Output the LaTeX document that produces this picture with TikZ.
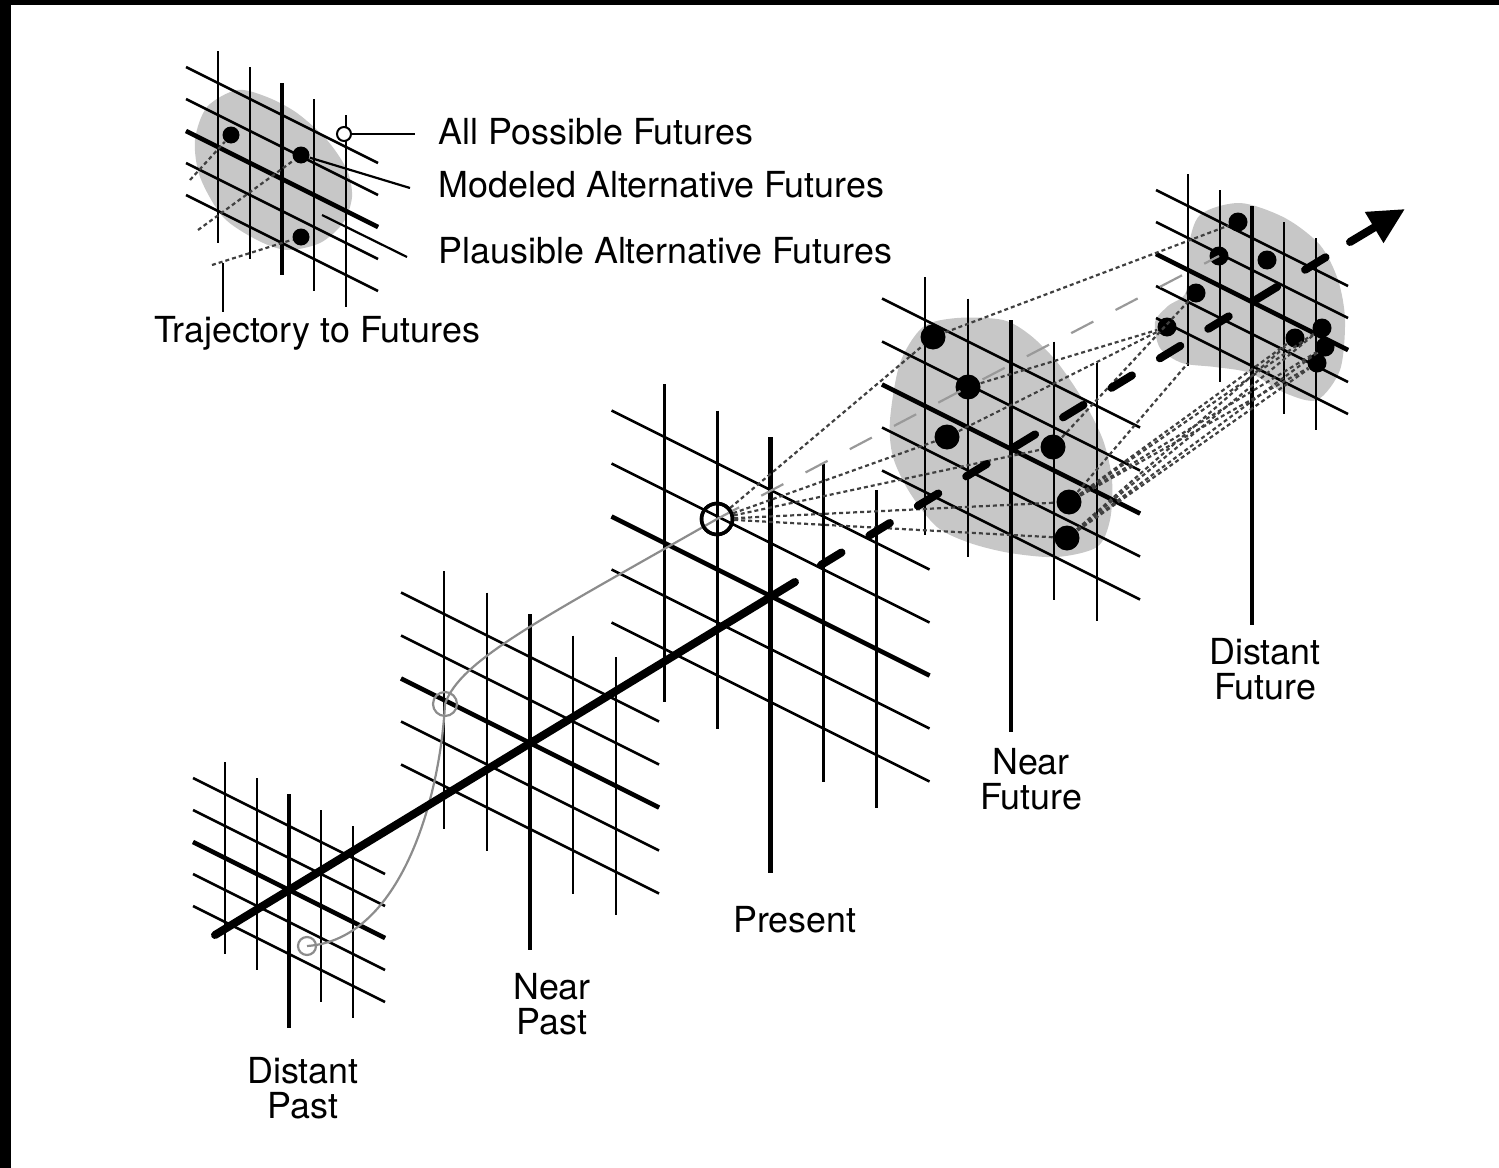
\documentclass[tikz,border=0pt]{standalone}
\usepackage{fontspec}
\setmainfont{TeX Gyre Heros}
\usetikzlibrary{arrows.meta}
\tikzset{
  gridline/.style={line width=0.25mm},
  gridaxis/.style={line width=0.45mm},
  blob/.style={fill=black!22},
  fut/.style={circle, fill=black, inner sep=0pt, minimum size=2.5mm},
  farfut/.style={fut, minimum size=1.9mm},
  keyfut/.style={fut, minimum size=1.7mm},
  nowpt/.style={circle, draw, line width=0.35mm, inner sep=0pt, minimum size=3.1mm},
  pastpt/.style={circle, draw=black!45, line width=0.22mm, inner sep=0pt, minimum size=2.4mm},
  traj/.style={draw=black!45, line width=0.22mm},
  altpath/.style={black!75, line width=0.22mm, dash pattern=on 0.4mm off 0.3mm},
  extrap/.style={black!40, line width=0.22mm, dash pattern=on 2.5mm off 2.5mm},
  timeline/.style={line width=0.8mm, line cap=round},
  lbl/.style={font=\fontsize{10.2}{10}\selectfont, align=center},
  keytext/.style={font=\fontsize{10.2}{10}\selectfont, anchor=base west, inner sep=0pt},
  leader/.style={line width=0.22mm},
}
% centre x, centre y, spacing, drop of the centre vertical
\newcommand{\timegrid}[4]{
  \foreach \i in {-2,...,2}{
    \draw[gridline] ({#1+(\i)*#3},{#2+0.5*(\i)*#3-3*#3}) -- ({#1+(\i)*#3},{#2+0.5*(\i)*#3+3*#3});
    \draw[gridline] ({#1-3*#3},{#2+(\i)*#3-1.5*#3}) -- ({#1+3*#3},{#2+(\i)*#3+1.5*#3});
  }
  \draw[gridaxis] (#1,{#2-3*#3}) -- (#1,{#2+#4});
  \draw[gridaxis] ({#1-3*#3},{#2-1.5*#3}) -- ({#1+3*#3},{#2+1.5*#3});
}

\begin{document}
\begin{tikzpicture}[x=0.1mm, y=-0.1mm]
    \useasboundingbox (0,0) rectangle (1499,1168);
    \fill (0,0) rectangle (1499,5);
    \fill (0,0) rectangle (11,1168);
    % shaded clusters
    \fill[blob] plot[smooth cycle] coordinates {(237,90) (267,97) (297,113) (327,140) (347,170) (352,197) (343,223) (320,243) (287,250) (257,240) (223,217) (200,177) (195,140) (207,107)};
    \fill[blob] plot[smooth cycle] coordinates {(890,420) (900,363) (923,327) (957,318) (1003,320) (1030,335) (1057,362) (1083,400) (1103,440) (1112,480) (1110,520) (1097,547) (1057,557) (1010,553) (970,543) (937,527) (910,493) (893,457)};
    \fill[blob] plot[smooth cycle] coordinates {(1240,203) (1285,218) (1320,245) (1338,280) (1345,320) (1340,370) (1317,400) (1285,393) (1250,373) (1215,367) (1182,363) (1160,348) (1155,322) (1168,306) (1186,292) (1188,250) (1200,215)};
    % grids
    \timegrid{282}{179}{32}{96}
    \timegrid{289}{890}{32}{138}
    \timegrid{530}{743}{43}{207}
    \timegrid{770.5}{596}{53}{277}
    \timegrid{1011}{449}{43}{283}
    \timegrid{1252}{302}{32}{323}
    % points in time
    \node[nowpt] (now) at (717,519) {};
    \node[pastpt] (npst) at (445,704) {};
    \node[pastpt, minimum size=1.8mm] (dpst) at (307,946) {};
    \node[fut] (nf1) at (933,337) {};
    \node[fut] (nf2) at (968,387) {};
    \node[fut] (nf3) at (947,437) {};
    \node[fut] (nf4) at (1053,447) {};
    \node[fut] (nf5) at (1069,502) {};
    \node[fut] (nf6) at (1067,538) {};
    \node[farfut] (df1) at (1238,222) {};
    \node[farfut] (df2) at (1219,256) {};
    \node[farfut] (df3) at (1267,260) {};
    \node[farfut] (df4) at (1196,293) {};
    \node[farfut] (df5) at (1167,327) {};
    \node[farfut] (df6) at (1295,338) {};
    \node[farfut] (df7) at (1322,328) {};
    \node[farfut] (df8) at (1325,347) {};
    \node[farfut] (df9) at (1317,363) {};
    \coordinate (dfx) at (1188,363);
    \draw[traj] (dpst.center) .. controls (400,940) and (440,800) .. (npst.center) .. controls (460,660) and (540,620) .. (now.center);
    \draw[extrap] (now.center) -- (nf2.center) -- (df2.center);
    \foreach \d in {nf1,nf3,nf4,nf5,nf6} \draw[altpath] (now) -- (\d);
    \draw[altpath] (nf1) -- (df1);
    \draw[altpath] (nf2) -- (df5);
    \draw[altpath] (nf3) -- (df5);
    \draw[altpath] (nf4) -- (df4);
    \draw[altpath] (nf5) -- (dfx);
    \foreach \a in {nf5,nf6} \foreach \b in {df6,df7,df8,df9} \draw[altpath] (\a) -- (\b);
    % time line
    \coordinate (axA) at (215,935);
    \coordinate (axB) at (795,582);
    \coordinate (axC) at (821,565);
    \coordinate (axD) at (1326,257);
    \coordinate (axE) at (1350,242);
    \coordinate (axF) at (1405,209);
    \draw[timeline] (axA) -- (axB);
    \draw[timeline, dash pattern=on 2.4mm off 3.27mm] (axC) -- (axD);
    \draw[timeline, -{Triangle[length=3.6mm, width=3.4mm]}] (axE) -- (axF);
    \foreach \d in {nf1,nf2,nf3,nf4,nf5,nf6,df1,df2,df3,df4,df5,df6,df7,df8,df9} \node[fut, minimum size=0pt] at (\d) {};
    \node[nowpt] at (now) {};
    % legend
    \node[keyfut] (kd1) at (231,135) {};
    \node[keyfut] (kd2) at (301,155) {};
    \node[keyfut] (kd3) at (301,237) {};
    \node[circle, draw, fill=white, line width=0.2mm, inner sep=0pt, minimum size=1.4mm] (kall) at (344,134) {};
    \coordinate (kt1) at (190,180);
    \coordinate (kt2) at (198,230);
    \coordinate (kt3) at (212,265);
    \draw[altpath] (kt1) -- (kd1);
    \draw[altpath] (kt2) -- (kd2);
    \draw[altpath] (kt3) -- (kd3);
    \node[keytext] (kall-l) at (438,144) {All Possible Futures};
    \node[keytext] (kmod-l) at (438,197) {Modeled Alternative Futures};
    \node[keytext] (kpla-l) at (438,263) {Plausible Alternative Futures};
    \node[lbl, anchor=base, inner sep=0pt] (ktrj-l) at (317,342) {Trajectory to Futures};
    \coordinate (kall-e) at (415,134);
    \coordinate (kmod-e) at (410,188);
    \coordinate (kpla-s) at (322,215);
    \coordinate (kpla-e) at (407,257);
    \coordinate (ktrj-s) at (223,263);
    \coordinate (ktrj-e) at (223,312);
    \draw[leader] (kall) -- (kall-e);
    \draw[leader] (kd2) -- (kmod-e);
    \draw[leader] (kpla-s) -- (kpla-e);
    \draw[leader] (ktrj-s) -- (ktrj-e);
    % labels
    \node[lbl] (dpast-l) at (303,1088) {Distant\\Past};
    \node[lbl] (npast-l) at (552,1004) {Near\\Past};
    \node[lbl] (pres-l) at (795,920) {Present};
    \node[lbl] (nfut-l) at (1031,779) {Near\\Future};
    \node[lbl] (dfut-l) at (1265,669) {Distant\\Future};
\end{tikzpicture}
\end{document}
